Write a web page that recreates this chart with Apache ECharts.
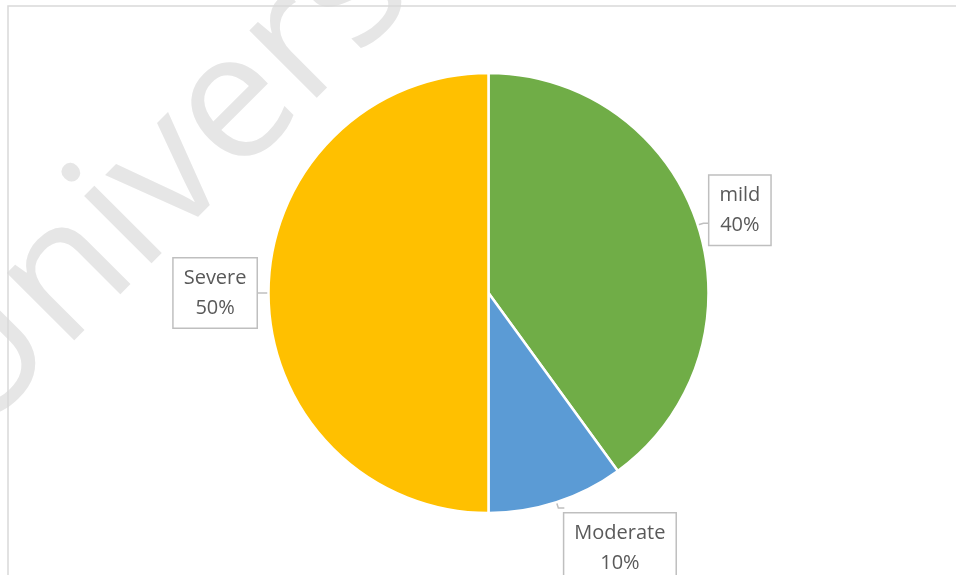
<!DOCTYPE html>
<html>
<head>
<meta charset="utf-8">
<script src="https://cdn.jsdelivr.net/npm/echarts@6/dist/echarts.min.js"></script>
<style>
  html, body { margin: 0; padding: 0; background: #ffffff; }
  #chart { width: 956px; height: 575px; }
</style>
</head>
<body>
<div id="chart"></div>
<script>
// Severity breakdown
const categories = ['mild', 'Moderate', 'Severe'];
const shares = [40, 10, 50];

// styling
const sliceColors = ['#70AD47', '#5B9BD5', '#FFC000'];
const calloutShift = [-13, 40, 0];   // vertical nudge of each callout box (px)

const chart = echarts.init(document.getElementById('chart'), null, { renderer: 'canvas' });

const pieData = categories.map((name, i) => ({
  name: name,
  value: shares[i],
  itemStyle: { color: sliceColors[i] }
}));

chart.setOption({
  backgroundColor: '#ffffff',
  animation: false,
  graphic: [
    {
      type: 'text',
      z: 0,
      x: -64,
      y: 407,
      rotation: Math.PI / 4,
      silent: true,
      style: {
        text: 'University',
        font: '178px "Open Sans"',
        fill: '#e6e6e6',
        align: 'left',
        verticalAlign: 'middle'
      }
    },
    {
      type: 'rect',
      z: 1,
      silent: true,
      shape: { x: 8, y: 6, width: 1200, height: 1200 },
      style: { fill: 'none', stroke: '#d9d9d9', lineWidth: 1.5 }
    }
  ],
  series: [
    {
      type: 'pie',
      z: 5,
      center: [488.5, 293],
      radius: 220,
      startAngle: 90,
      clockwise: true,
      avoidLabelOverlap: false,
      itemStyle: { borderColor: '#ffffff', borderWidth: 2.5 },
      label: {
        show: true,
        position: 'outside',
        alignTo: 'none',
        distanceToLabelLine: 0,
        formatter: '{t|{b}}\n{t|{d}%}',
        backgroundColor: '#ffffff',
        borderColor: '#bfbfbf',
        borderWidth: 1.5,
        padding: [5, 10, 4, 10],
        rich: {
          t: {
            align: 'center',
            fontFamily: '"Open Sans", sans-serif',
            fontSize: 20,
            lineHeight: 30,
            color: '#595959'
          }
        }
      },
      labelLine: {
        show: true,
        length: 6,
        length2: 6,
        lineStyle: { color: '#bfbfbf', width: 1.5 }
      },
      labelLayout: function (params) {
        return { dy: calloutShift[params.dataIndex] };
      },
      emphasis: { disabled: true },
      data: pieData
    }
  ]
});
</script>
</body>
</html>
